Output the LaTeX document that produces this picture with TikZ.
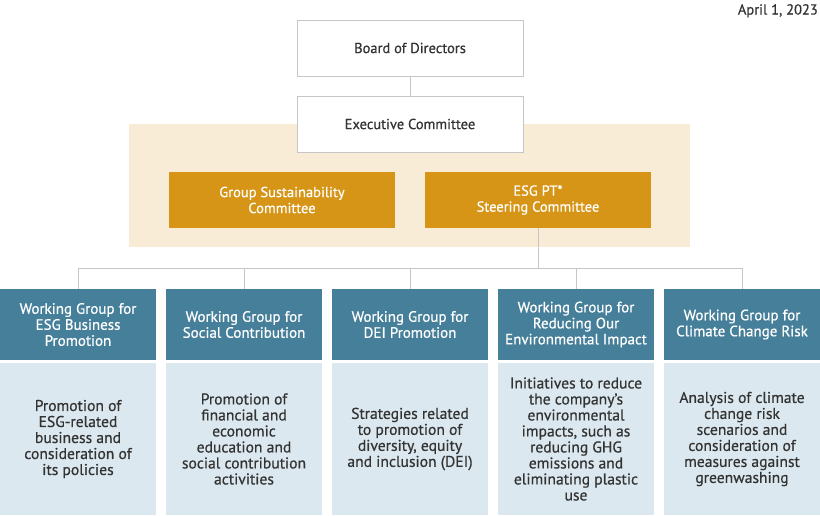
\documentclass[tikz,border=0pt]{standalone}
\usepackage{fontspec}
\setmainfont{PT Sans}
\newfontfamily\medf[FakeBold=0.6]{PT Sans}
\begin{document}
\begin{tikzpicture}[x=1pt,y=-1pt,
  every node/.style={font=\fontsize{14.5}{16}\medf, text=txt, align=center, inner sep=0pt},
  topbox/.style={draw=linegray, line width=1pt, fill=white, minimum width=226pt, minimum height=56pt},
  goldbox/.style={fill=gold, text=white, minimum width=226pt, minimum height=56pt},
  headbox/.style={fill=teal, text=white, minimum width=156pt, minimum height=71pt, font=\fontsize{15}{16}\medf},
  bodybox/.style={fill=pale, minimum width=156pt, minimum height=152pt, font=\fontsize{15.6}{16}\medf},
  conn/.style={draw=linegray, line width=1pt}
]
\definecolor{txt}{HTML}{333333}
\definecolor{linegray}{HTML}{C6C6C6}
\definecolor{gold}{HTML}{D69516}
\definecolor{tan}{HTML}{F8ECD7}
\definecolor{teal}{HTML}{467F9A}
\definecolor{pale}{HTML}{DCE8EF}
\useasboundingbox (0,0) rectangle (820,515);
\fill[tan] (129,124) rectangle (690,247);
\node[anchor=north east] (date) at (818,4) {April 1, 2023};
\node[topbox] (board) at (410,48) {Board of Directors};
\node[topbox] (exec) at (410,124) {Executive Committee};
\node[goldbox] (gsc) at (282,200) {Group Sustainability\\Committee};
\node[goldbox] (esg) at (538,200) {ESG PT*\\Steering Committee};
\node[headbox] (h1) at (78,324.5) {Working Group for\\ESG Business\\Promotion};
\node[headbox] (h2) at (244,324.5) {Working Group for\\Social Contribution};
\node[headbox] (h3) at (410,324.5) {Working Group for\\DEI Promotion};
\node[headbox] (h4) at (576,324.5) {Working Group for\\Reducing Our\\Environmental Impact};
\node[headbox] (h5) at (742,324.5) {Working Group for\\Climate Change Risk};
\node[bodybox] (b1) at (78,439) {Promotion of\\ESG-related\\business and\\consideration of\\its policies};
\node[bodybox] (b2) at (244,439) {Promotion of\\financial and\\economic\\education and\\social contribution\\activities};
\node[bodybox] (b3) at (410,439) {Strategies related\\to promotion of\\diversity, equity\\and inclusion (DEI)};
\node[bodybox] (b4) at (576,439) {Initiatives to reduce\\the company’s\\environmental\\impacts, such as\\reducing GHG\\emissions and\\eliminating plastic\\use};
\node[bodybox] (b5) at (742,439) {Analysis of climate\\change risk\\scenarios and\\consideration of\\measures against\\greenwashing};
\coordinate (bus) at (538,268);
\draw[conn] (board.south) -- (exec.north);
\draw[conn] (esg.south) -- (bus);
\draw[conn] (h1.north |- bus) -- (h5.north |- bus);
\foreach \i in {1,...,5} \draw[conn] (h\i.north |- bus) -- (h\i.north);
\end{tikzpicture}
\end{document}
